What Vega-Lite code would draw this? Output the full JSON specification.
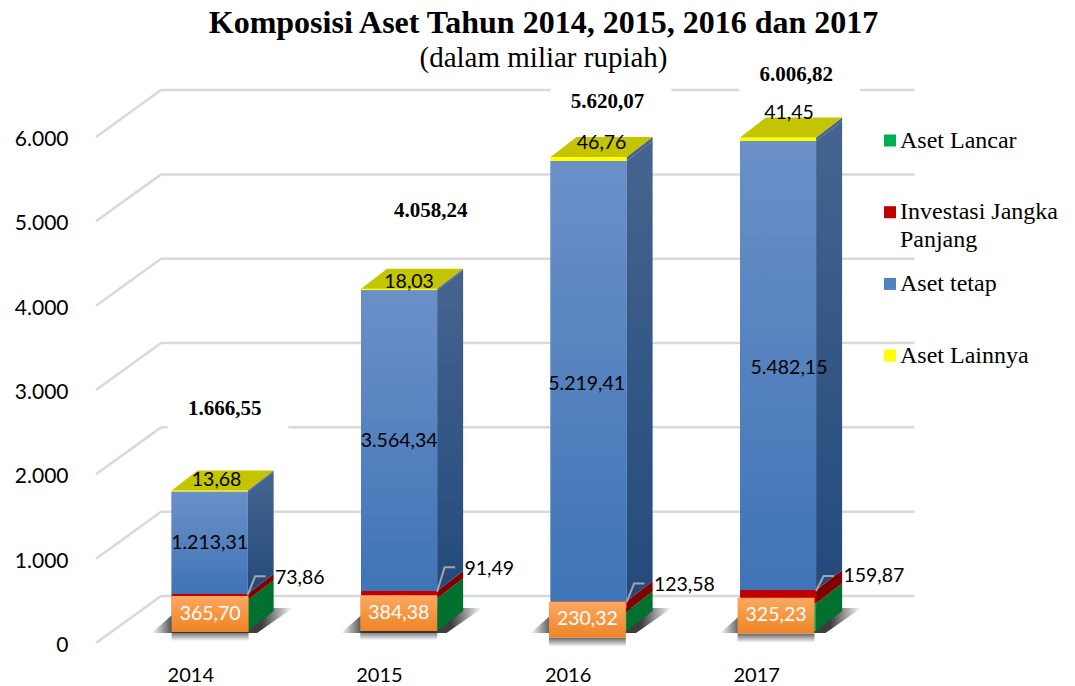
{"$schema":"https://vega.github.io/schema/vega-lite/v6.json","width":979,"height":571,"autosize":"none","padding":{"left":96,"top":72,"right":0,"bottom":43},"background":"white",
"title":{"text":"Komposisi Aset Tahun 2014, 2015, 2016 dan 2017","subtitle":"(dalam miliar rupiah)","font":"Liberation Serif","fontSize":32,"fontWeight":"bold","color":"black","subtitleFont":"Liberation Serif","subtitleFontSize":29,"subtitleColor":"black","subtitlePadding":4,"anchor":"middle","dx":-42,"offset":-20},
"config":{"view":{"stroke":null},"text":{"font":"Lato","fontSize":19.5,"color":"black"}},
"datasets":{
"grid":[{"v":0},{"v":1000},{"v":2000},{"v":3000},{"v":4000},{"v":5000},{"v":6000}],
"totals":[{"year":2014,"total":1666.55,"label":"1.666,55"},{"year":2015,"total":4058.24,"label":"4.058,24"},{"year":2016,"total":5620.07,"label":"5.620,07"},{"year":2017,"total":6006.82,"label":"6.006,82"}],
"rows":[
{"year":2014,"segment":"Aset Lancar","order":1,"value":365.7,"label":"365,70"},
{"year":2014,"segment":"Investasi Jangka Panjang","order":2,"value":73.86,"label":"73,86"},
{"year":2014,"segment":"Aset tetap","order":3,"value":1213.31,"label":"1.213,31"},
{"year":2014,"segment":"Aset Lainnya","order":4,"value":13.68,"label":"13,68"},
{"year":2015,"segment":"Aset Lancar","order":1,"value":384.38,"label":"384,38"},
{"year":2015,"segment":"Investasi Jangka Panjang","order":2,"value":91.49,"label":"91,49"},
{"year":2015,"segment":"Aset tetap","order":3,"value":3564.34,"label":"3.564,34"},
{"year":2015,"segment":"Aset Lainnya","order":4,"value":18.03,"label":"18,03"},
{"year":2016,"segment":"Aset Lancar","order":1,"value":230.32,"label":"230,32"},
{"year":2016,"segment":"Investasi Jangka Panjang","order":2,"value":123.58,"label":"123,58"},
{"year":2016,"segment":"Aset tetap","order":3,"value":5219.41,"label":"5.219,41"},
{"year":2016,"segment":"Aset Lainnya","order":4,"value":46.76,"label":"46,76"},
{"year":2017,"segment":"Aset Lancar","order":1,"value":325.23,"label":"325,23"},
{"year":2017,"segment":"Investasi Jangka Panjang","order":2,"value":159.87,"label":"159,87"},
{"year":2017,"segment":"Aset tetap","order":3,"value":5326,"label":"5.482,15"},
{"year":2017,"segment":"Aset Lainnya","order":4,"value":41.45,"label":"41,45"}]},
"data":{"name":"rows"},
"transform":[
{"stack":"value","groupby":["year"],"sort":[{"field":"order"}],"as":["s0","s1"]},
{"calculate":"datum.s0+142","as":"y0"},
{"calculate":"datum.s1+142","as":"y1"},
{"calculate":"2013.9008+(datum.year-2014)*1.0045","as":"xl"},
{"calculate":"datum.xl+0.403","as":"xr"}],
"encoding":{
"x":{"field":"xa","type":"quantitative","title":null,"scale":{"domain":[2013.5,2018.69],"nice":false,"zero":false},"axis":{"values":[2014,2015,2016,2017],"format":"d","domain":false,"ticks":false,"grid":false,"labelFont":"Lato","labelFontSize":20,"labelColor":"black","labelPadding":22,"labelFlush":false}},
"y":{"field":"ya","type":"quantitative","title":null,"stack":null,"scale":{"domain":[0,6771],"nice":false,"zero":false},"axis":{"values":[0,1000,2000,3000,4000,5000,6000],"labelExpr":"replace(format(datum.value,','),',','.')","domain":false,"ticks":false,"grid":false,"labelFont":"Lato","labelFontSize":21,"labelColor":"black","labelPadding":28,"labelOffset":2.5}}},
"layer":[
{"data":{"name":"grid"},"transform":[{"calculate":"datum.v+557","as":"ya"},{"calculate":"2013.845","as":"xa"},{"calculate":"2017.84","as":"xb"}],"mark":{"type":"rule","color":"#d9d9d9","strokeWidth":2.5},"encoding":{"x2":{"field":"xb"}}},
{"data":{"name":"grid"},"transform":[{"calculate":"datum.v","as":"ya"},{"calculate":"datum.v+557","as":"yb"},{"calculate":"2013.5","as":"xa"},{"calculate":"2013.845","as":"xb"}],"mark":{"type":"rule","color":"#d9d9d9","strokeWidth":2.5},"encoding":{"x2":{"field":"xb"},"y2":{"field":"yb"}}},
{"data":{"name":"totals"},"transform":[{"calculate":"datum.year+[0.182,0.275,0.212,0.212][datum.year-2014]+0.018-0.32","as":"xa"},{"calculate":"datum.xa+0.64","as":"xb"},{"calculate":"datum.total+[1108,1065,795,728][datum.year-2014]-249","as":"ya"},{"calculate":"datum.ya+498","as":"yb"}],"mark":{"type":"rect","color":"white"},"encoding":{"x2":{"field":"xb"},"y2":{"field":"yb"}}},
{"transform":[{"filter":"datum.segment==='Aset Lancar'"},{"calculate":"[0,1]","as":"k"},{"flatten":["k"]},{"calculate":"120+datum.k*295","as":"ya"},{"calculate":"datum.xl-0.106+datum.k*0.15","as":"xa"},{"calculate":"datum.xr+0.05+datum.k*0.19","as":"xb"}],"mark":{"type":"area","orient":"horizontal","fill":{"gradient":"linear","x1":0,"y1":0,"x2":1,"y2":0,"stops":[{"offset":0,"color":"rgba(40,40,40,0)"},{"offset":0.16,"color":"rgba(40,40,40,0.9)"},{"offset":0.78,"color":"rgba(40,40,40,0.9)"},{"offset":1,"color":"rgba(40,40,40,0)"}]}},"encoding":{"x2":{"field":"xb"},"detail":{"field":"year"}}},
{"transform":[{"calculate":"[0,1]","as":"k"},{"flatten":["k"]},{"calculate":"datum.xr+datum.k*0.138","as":"xa"},{"calculate":"datum.y0+datum.k*237","as":"ya"},{"calculate":"datum.y1+datum.k*237","as":"yb"}],
"encoding":{"y2":{"field":"yb"},"detail":{"field":"year"}},
"layer":[
{"transform":[{"filter":"datum.segment==='Aset Lancar'"}],"mark":{"type":"area","orient":"vertical","color":"#00702f"}},
{"transform":[{"filter":"datum.segment==='Investasi Jangka Panjang'"}],"mark":{"type":"area","orient":"vertical","color":"#800000"}},
{"transform":[{"filter":"datum.segment==='Aset tetap'"}],"mark":{"type":"area","orient":"vertical","fill":{"gradient":"linear","x1":0,"y1":0,"x2":0,"y2":1,"stops":[{"offset":0,"color":"#46648f"},{"offset":1,"color":"#234a7c"}]}}},
{"transform":[{"filter":"datum.segment==='Aset Lainnya'"}],"mark":{"type":"area","orient":"vertical","color":"#46648f"}}]},
{"transform":[{"calculate":"datum.xl","as":"xa"},{"calculate":"datum.xr","as":"xb"},{"calculate":"datum.y0","as":"ya"},{"calculate":"datum.y1","as":"yb"}],"mark":{"type":"rect"},"encoding":{"x2":{"field":"xb"},"y2":{"field":"yb"},"color":{"field":"segment","type":"nominal","scale":{"domain":["Aset Lancar","Investasi Jangka Panjang","Aset tetap","Aset Lainnya"],"range":["#00b050","#c00000","#4f81bd","#ffff00"]},"legend":{"title":null,"orient":"none","legendX":782,"legendY":56.5,"direction":"vertical","symbolType":"square","symbolSize":144,"symbolStrokeWidth":0,"symbolOpacity":1,"labelFont":"Liberation Serif","labelFontSize":24,"labelColor":"black","labelOffset":-2,"labelLimit":300,"rowPadding":47.7,"labelExpr":"datum.label==='Investasi Jangka Panjang'?'Investasi Jangka':datum.label"}}}},
{"data":{"values":[{"text":"Panjang"}]},"transform":[{"calculate":"2017.762","as":"xa"},{"calculate":"4779","as":"ya"}],"mark":{"type":"text","font":"Liberation Serif","fontSize":24,"align":"left","baseline":"middle"},"encoding":{"text":{"field":"text"}}},
{"transform":[{"filter":"datum.segment==='Aset tetap'"},{"calculate":"datum.xl","as":"xa"},{"calculate":"datum.xr","as":"xb"},{"calculate":"datum.y0","as":"ya"},{"calculate":"datum.y1","as":"yb"}],"mark":{"type":"rect","fill":{"gradient":"linear","x1":0,"y1":0,"x2":0,"y2":1,"stops":[{"offset":0,"color":"#6b90c8"},{"offset":1,"color":"#3f74b6"}]}},"encoding":{"x2":{"field":"xb"},"y2":{"field":"yb"}}},
{"transform":[{"filter":"datum.segment==='Aset Lainnya'"},{"calculate":"[0,1]","as":"k"},{"flatten":["k"]},{"calculate":"datum.y1+datum.k*237","as":"ya"},{"calculate":"datum.xl+datum.k*0.138","as":"xa"},{"calculate":"datum.xr+datum.k*0.138","as":"xb"}],"mark":{"type":"area","orient":"horizontal","color":"#c5c400"},"encoding":{"x2":{"field":"xb"},"detail":{"field":"year"}}},
{"transform":[{"filter":"datum.segment==='Aset Lancar'"},{"calculate":"(datum.y0+datum.y1)/2+20-213","as":"ya"},{"calculate":"datum.ya-110","as":"yb"},{"calculate":"datum.year+0.105-0.204","as":"xa"},{"calculate":"datum.year+0.105+0.204","as":"xb"}],"mark":{"type":"rect","fill":{"gradient":"linear","x1":0,"y1":0,"x2":0,"y2":1,"stops":[{"offset":0,"color":"rgba(50,50,50,0.75)"},{"offset":1,"color":"rgba(50,50,50,0)"}]}},"encoding":{"x2":{"field":"xb"},"y2":{"field":"yb"}}},
{"transform":[{"filter":"datum.segment==='Aset Lancar'"},{"calculate":"(datum.y0+datum.y1)/2+20-213","as":"ya"},{"calculate":"datum.ya+426","as":"yb"},{"calculate":"datum.year+0.105-0.204","as":"xa"},{"calculate":"datum.year+0.105+0.204","as":"xb"}],"mark":{"type":"rect","fill":{"gradient":"linear","x1":0,"y1":0,"x2":0,"y2":1,"stops":[{"offset":0,"color":"#fda860"},{"offset":1,"color":"#ee8426"}]}},"encoding":{"x2":{"field":"xb"},"y2":{"field":"yb"}}},
{"transform":[{"filter":"datum.segment==='Aset Lancar'"},{"calculate":"(datum.y0+datum.y1)/2+24","as":"ya"},{"calculate":"datum.year+0.105","as":"xa"}],"mark":{"type":"text","color":"white","align":"center","baseline":"middle"},"encoding":{"text":{"field":"label"}}},
{"transform":[{"filter":"datum.segment==='Aset tetap'"},{"calculate":"(datum.y0+datum.y1)/2-[0,0,30,30][datum.year-2014]","as":"ya"},{"calculate":"(datum.xl+datum.xr)/2+[0,0,-0.01,0.058][datum.year-2014]","as":"xa"}],"mark":{"type":"text","align":"center","baseline":"middle"},"encoding":{"text":{"field":"label"}}},
{"transform":[{"filter":"datum.segment==='Aset Lainnya'"},{"calculate":"datum.y1+[130,83,166,296][datum.year-2014]","as":"ya"},{"calculate":"(datum.xl+datum.xr)/2+[0.037,0.053,0.069,0.058][datum.year-2014]","as":"xa"}],"mark":{"type":"text","align":"center","baseline":"middle"},"encoding":{"text":{"field":"label"}}},
{"transform":[{"filter":"datum.segment==='Investasi Jangka Panjang'"},{"calculate":"[0,1,2]","as":"k"},{"flatten":["k"]},{"calculate":"datum.k===0?datum.xr:datum.k===1?datum.xr+0.04:datum.xr+0.095","as":"xa"},{"calculate":"datum.k===0?datum.y1-10:datum.y1+[210,281,210,166][datum.year-2014]","as":"ya"}],"mark":{"type":"line","color":"#a6a6a6","strokeWidth":2},"encoding":{"detail":{"field":"year"}}},
{"transform":[{"filter":"datum.segment==='Investasi Jangka Panjang'"},{"calculate":"datum.xr+0.145","as":"xa"},{"calculate":"datum.y1+[190,261,190,166][datum.year-2014]","as":"ya"}],"mark":{"type":"text","align":"left","baseline":"middle"},"encoding":{"text":{"field":"label"}}},
{"data":{"name":"totals"},"transform":[{"calculate":"datum.year+[0.182,0.275,0.212,0.212][datum.year-2014]","as":"xa"},{"calculate":"datum.total+[1108,1065,795,728][datum.year-2014]","as":"ya"}],"mark":{"type":"text","font":"Liberation Serif","fontWeight":"bold","fontSize":21,"align":"center","baseline":"middle"},"encoding":{"text":{"field":"label"}}}
]}
